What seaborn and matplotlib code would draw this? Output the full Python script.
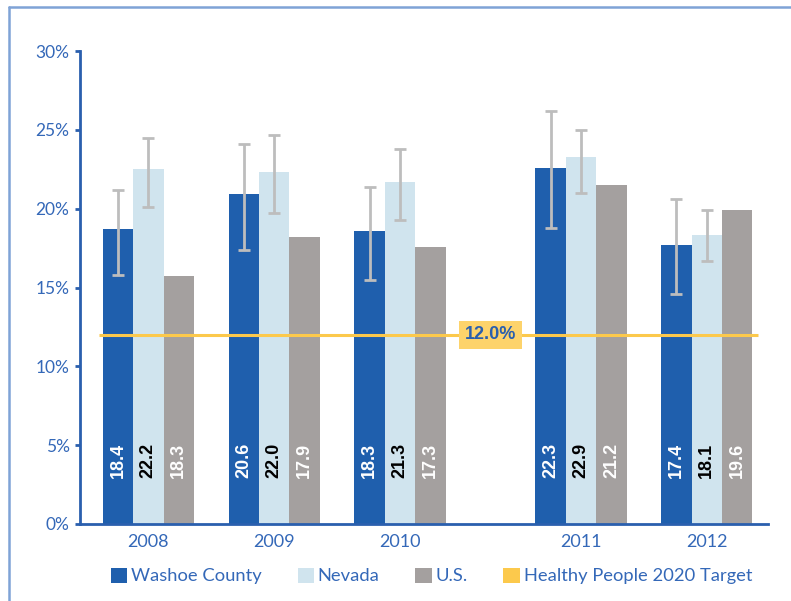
import numpy as np
import pandas as pd
import matplotlib
matplotlib.use("Agg")
import matplotlib.pyplot as plt
import seaborn as sns
from matplotlib.patches import Patch
from matplotlib.lines import Line2D


years = ["2008", "2009", "2010", "2011", "2012"]
series = ["Washoe County", "Nevada", "U.S."]

# bar heights as drawn (percent)
washoe = [18.7, 20.9, 18.6, 22.6, 17.7]
nevada = [22.5, 22.3, 21.7, 23.3, 18.3]
us = [15.7, 18.2, 17.6, 21.5, 19.9]

# confidence intervals (low, high)
washoe_low = [15.8, 17.4, 15.5, 18.8, 14.6]
washoe_high = [21.2, 24.1, 21.4, 26.2, 20.6]
nevada_low = [20.1, 19.7, 19.3, 21.0, 16.7]
nevada_high = [24.5, 24.7, 23.8, 25.0, 19.9]

# printed labels inside the bars
washoe_labels = ["18.4", "20.6", "18.3", "22.3", "17.4"]
nevada_labels = ["22.2", "22.0", "21.3", "22.9", "18.1"]
us_labels = ["18.3", "17.9", "17.3", "21.2", "19.6"]

target = 12.0
target_label = "12.0%"

# layout: gap between 2010 and 2011
group_pos = [0, 1, 2, 3.44, 4.44]

BLUE = "#1f5fad"
LIGHT = "#d0e4ee"
GREY = "#a4a09f"
GOLD = "#fcc94c"
TEXT = "#3468b8"
SPINE = "#2a5fae"

sns.set_theme(style="white")
plt.rcParams["font.family"] = ["Lato", "DejaVu Sans"]

df = pd.DataFrame({
    "pos": group_pos * 3,
    "value": washoe + nevada + us,
    "series": [s for s in series for _ in years],
})

fig = plt.figure(figsize=(7.91, 6.01), dpi=100)
ax = fig.add_axes([80 / 791, 77 / 601, 688 / 791, 473 / 601])

sns.barplot(data=df, x="pos", y="value", hue="series", hue_order=series,
            palette=[BLUE, LIGHT, GREY], native_scale=True, width=0.725,
            errorbar=None, legend=False, ax=ax, saturation=1,
            edgecolor="none", linewidth=0)

# error bars on Washoe and Nevada
err_data = {
    0: (washoe, washoe_low, washoe_high),
    1: (nevada, nevada_low, nevada_high),
}
for i, cont in enumerate(ax.containers):
    if i not in err_data:
        continue
    vals, lo, hi = err_data[i]
    xs = [b.get_x() + b.get_width() / 2 for b in cont]
    yerr = [np.array(vals) - np.array(lo), np.array(hi) - np.array(vals)]
    ax.errorbar(xs, vals, yerr=yerr, fmt="none", ecolor="#bdbdbd",
                elinewidth=2, capsize=4.5, capthick=2, zorder=4)

# target line
ax.hlines(target, -0.39, 4.85, color=GOLD, lw=2.2, zorder=3)
ax.text(2.72, target, target_label, ha="center", va="center",
        color=SPINE, fontsize=13, fontweight="bold",
        family=["Liberation Sans", "DejaVu Sans"], zorder=6,
        bbox=dict(boxstyle="square,pad=0.3", fc="#fdd36b", ec="none"))

# value labels inside bars
label_sets = [(washoe_labels, "white"), (nevada_labels, "black"), (us_labels, "white")]
for cont, (labels, col) in zip(ax.containers, label_sets):
    for bar, lab in zip(cont, labels):
        ax.text(bar.get_x() + bar.get_width() / 2, 4.05, lab, rotation=90,
                ha="center", va="center", color=col, fontsize=13,
                fontweight="bold", family=["Liberation Sans", "DejaVu Sans"],
                zorder=5)

ax.set_xlim(-0.543, 4.926)
ax.set_ylim(0, 30)
ax.set_yticks(range(0, 31, 5))
ax.set_yticklabels([f"{v}%" for v in range(0, 31, 5)])
ax.set_xticks(group_pos)
ax.set_xticklabels(years)
ax.set_xlabel("")
ax.set_ylabel("")

for side in ["top", "right"]:
    ax.spines[side].set_visible(False)
for side in ["left", "bottom"]:
    ax.spines[side].set_color(SPINE)
    ax.spines[side].set_linewidth(2)

ax.tick_params(axis="y", length=3.5, width=2, color=SPINE, pad=4,
               labelsize=12.5, labelcolor=TEXT, left=True)
ax.tick_params(axis="x", length=0, pad=7, labelsize=13, labelcolor=TEXT)

handles = [Patch(fc=BLUE, ec="none"), Patch(fc=LIGHT, ec="none"),
           Patch(fc=GREY, ec="none"), Patch(fc=GOLD, ec="none")]
leg = fig.legend(handles, series + ["Healthy People 2020 Target"], ncol=4,
                 loc="center", bbox_to_anchor=(431.5 / 791, 1 - 576 / 601),
                 frameon=False, fontsize=13.2, handlelength=0.9,
                 handleheight=0.9, handletextpad=0.2, columnspacing=1.95)
for t in leg.get_texts():
    t.set_color(TEXT)

# frame lines of the original panel
fig.add_artist(Line2D([8.5 / 791, 1], [1 - 7 / 601] * 2, color="#7fa3d6", lw=1.8))
fig.add_artist(Line2D([8.5 / 791] * 2, [0, 1 - 7 / 601], color="#7fa3d6", lw=1.8))

fig.savefig("out.png", dpi=100)
